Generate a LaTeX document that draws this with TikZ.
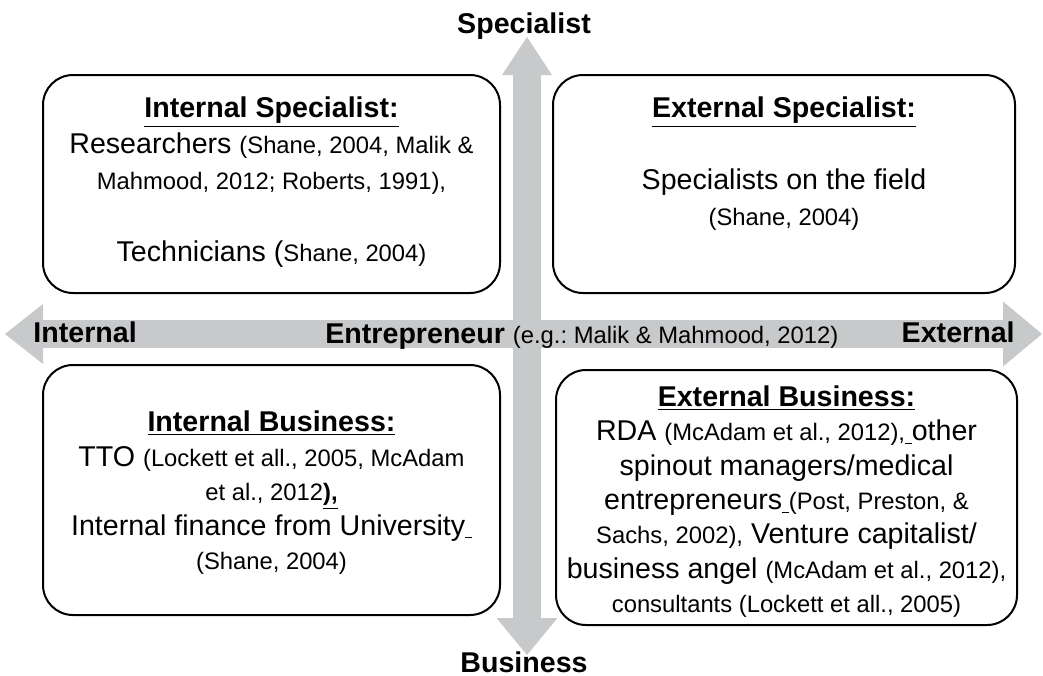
\documentclass[tikz,border=0pt]{standalone}
\usepackage{fontspec}
\setmainfont{Liberation Sans}
\usetikzlibrary{positioning,arrows.meta}
\definecolor{axisgray}{RGB}{200,201,203}
\newcommand\bigsz{\fontsize{14.3pt}{18pt}\selectfont}
\newcommand\refsz{\fontsize{11.9pt}{18pt}\selectfont}
\newcommand\quadtitle[1]{\underline{\textbf{#1}}}
\frenchspacing
\tikzset{
  axis/.style={draw=axisgray, line width=14pt},
  quad/.style={draw, fill=white, line width=1pt, rounded corners=15pt},
  txt/.style={align=center, inner sep=0pt, font=\bigsz},
  lbl/.style={inner sep=0pt, font=\bigsz\bfseries}
}
\begin{document}
\begin{tikzpicture}[x=0.5pt,y=-0.5pt]
\useasboundingbox (0,0) rectangle (1043,675);
% the two axes
\draw[axis,{Triangle[length=19pt,width=30pt,line width=0pt]}-{Triangle[length=19.5pt,width=32.5pt,line width=0pt]}] (5,334) -- (1042,334);
\draw[axis,{Triangle[length=19pt,width=25pt,line width=0pt]}-{Triangle[length=18.5pt,width=30.5pt,line width=0pt]}] (527,37) -- (527,655);
% quadrants
\node[quad, minimum width=228.5pt, minimum height=109pt] (intspec) at (271.5,184) {};
\node[quad, minimum width=231pt, minimum height=109pt] (extspec) at (784,184) {};
\node[quad, minimum width=228.5pt, minimum height=125pt] (intbus) at (271.5,490) {};
\node[quad, minimum width=230.5pt, minimum height=127.5pt] (extbus) at (786.5,497.5) {};
\node[txt, below=11.2pt of intspec.north] (intspectxt) {\quadtitle{Internal Specialist:}\\
  Researchers {\refsz(Shane, 2004, Malik \&}\\
  {\refsz Mahmood, 2012; Roberts, 1991),}\\[18pt]
  Technicians ({\refsz Shane, 2004)}};
\node[txt, below=11.2pt of extspec.north] (extspectxt) {\quadtitle{External Specialist:}\\[18pt]
  Specialists on the field\\
  {\refsz(Shane, 2004)}};
\node[txt, font=\fontsize{14.3pt}{17.25pt}\selectfont, below=23.2pt of intbus.north] (intbustxt) {\quadtitle{Internal Business:}\\
  TTO {\refsz(Lockett et all., 2005, McAdam}\\
  {\refsz et al., 2012\underline{\textbf{),}}}\\
  Internal finance from University{\refsz\underline{\ }}\\
  {\refsz(Shane, 2004)}};
\node[txt, font=\fontsize{14.3pt}{17.15pt}\selectfont, below=8.2pt of extbus.north] (extbustxt) {\quadtitle{External Business:}\\
  RDA {\refsz(McAdam et al., 2012),\underline{\ }}other\\
  spinout managers/medical\\
  entrepreneurs{\refsz\underline{\ }(Post, Preston, \&}\\
  {\refsz Sachs, 2002),} Venture capitalist/\\
  business angel {\refsz(McAdam et al., 2012),}\\
  {\refsz consultants (Lockett et all., 2005)}};
% axis labels
\node[lbl, anchor=base] (spec) at (524,33) {Specialist};
\node[lbl, anchor=base] (bus) at (524,672) {Business};
\node[lbl, anchor=base west] (int) at (33,342) {Internal};
\node[lbl, anchor=base east] (ext) at (1015,342) {External};
\node[lbl, anchor=base west] (entr) at (325,343) {Entrepreneur {\mdseries\refsz(e.g.: Malik \& Mahmood, 2012)}};
\end{tikzpicture}
\end{document}
